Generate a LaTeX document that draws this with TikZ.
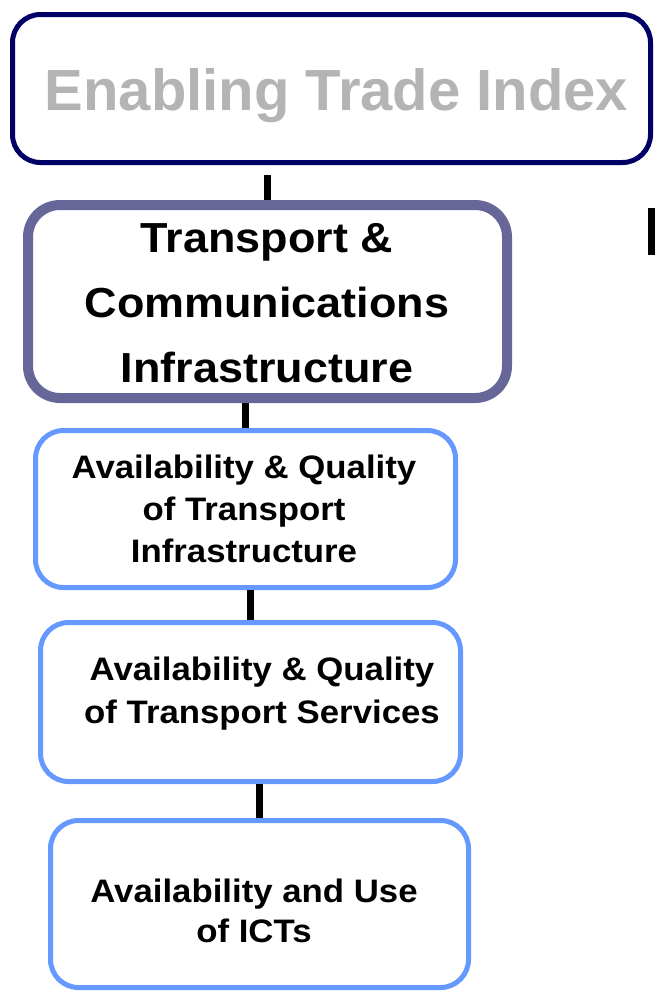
\documentclass[tikz,border=0pt]{standalone}
\usepackage{fontspec}
\setmainfont{Liberation Sans}
\newfontfamily\boxfont{Liberation Sans}[FakeStretch=1.07]

\definecolor{etinavy}{RGB}{0,0,102}
\definecolor{tcislate}{RGB}{102,102,153}
\definecolor{subblue}{RGB}{102,153,255}
\definecolor{titlegray}{RGB}{180,180,180}

\begin{document}
\begin{tikzpicture}[x=1pt, y=-1pt,
    box/.style={draw, rounded corners=28pt, line width=5pt, fill=white, inner sep=0pt},
    subbox/.style={box, draw=subblue, minimum width=420pt},
    txt/.style={align=center, anchor=base, inner sep=0pt},
    link/.style={line width=7pt}]

   \useasboundingbox (0,0) rectangle (655,991);

   % boxes
   \node [box, draw=etinavy, minimum width=638pt, minimum height=148pt] (eti) at (331.5,88.5) {};
   \node [box, draw=tcislate, line width=10pt, rounded corners=32pt,
          minimum width=479pt, minimum height=193pt] (tci) at (267.5,301.5) {};
   \node [subbox, minimum height=157pt] (tqi) at (245.5,509) {};
   \node [subbox, minimum height=159pt] (tqs) at (250.5,702) {};
   \node [subbox, minimum width=418pt, minimum height=167pt] (ict) at (259.5,904) {};

   % texts (base = last line)
   \node [txt, font=\fontsize{58}{70}\selectfont\bfseries, text=titlegray]
      (etitext) at (336.5,110) {Enabling Trade Index};
   \node [txt, font=\boxfont\fontsize{42}{65}\selectfont\bfseries]
      (tcitext) at (267,382) {Transport \&\\Communications\\Infrastructure};
   \node [txt, font=\boxfont\fontsize{32.5}{42}\selectfont\bfseries]
      (tqitext) at (244,562) {Availability \& Quality\\of Transport\\Infrastructure};
   \node [txt, font=\boxfont\fontsize{32.5}{43}\selectfont\bfseries]
      (tqstext) at (262,723) {Availability \& Quality\\of Transport Services};
   \node [txt, font=\boxfont\fontsize{32.5}{40}\selectfont\bfseries]
      (icttext) at (254,942) {Availability and Use\\of ICTs};

   % links
   \foreach \i/\j/\s in {eti/tci/10, tci/tqi/0, tqi/tqs/0, tqs/ict/0}
      \draw [link, shorten >=\s pt] (\j.north) -- (\j.north |- \i.south);

   \fill (648,208) rectangle (655,255);

\end{tikzpicture}
\end{document}
